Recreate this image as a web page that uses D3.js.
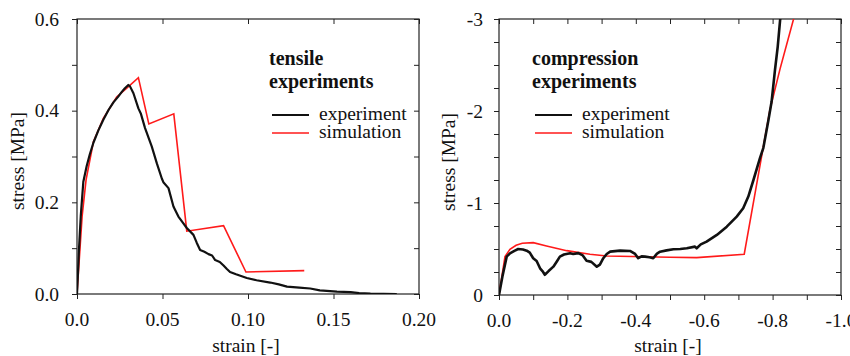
<!DOCTYPE html>
<html>
<head>
<meta charset="utf-8">
<script src="https://cdn.jsdelivr.net/npm/d3@7"></script>
<style>
  html, body { margin: 0; padding: 0; background: #fff; }
  svg { display: block; }
</style>
</head>
<body>
<div id="chart"></div>
<script>
/* stress-strain curves, tensile (left) and compression (right) */
const FONT = '"Liberation Serif"';

const tensileXTicks = [0, 0.05, 0.10, 0.15, 0.20];
const tensileXLabels = ["0.0", "0.05", "0.10", "0.15", "0.20"];
const tensileYTicks = [0, 0.2, 0.4, 0.6];
const tensileYLabels = ["0.0", "0.2", "0.4", "0.6"];

const tensileExpStrain = [0, 0.0005, 0.0012, 0.0022, 0.0037, 0.0057, 0.0075, 0.0096, 0.0125, 0.0154, 0.0185,
  0.0213, 0.024, 0.0262, 0.028, 0.0300, 0.031, 0.033, 0.0359, 0.0373, 0.0398, 0.0437, 0.0467, 0.0496, 0.0505,
  0.0535, 0.0564, 0.0593, 0.0620, 0.0642, 0.0681, 0.0700, 0.072, 0.0745, 0.0769, 0.0790, 0.0808, 0.0835, 0.0857,
  0.0875, 0.0895, 0.093, 0.0993, 0.105, 0.113, 0.118, 0.1228, 0.130, 0.1364, 0.142, 0.152, 0.160, 0.165, 0.1716, 0.187];
const tensileExpStress = [0, 0.04, 0.10, 0.17, 0.245, 0.28, 0.305, 0.33, 0.357, 0.38, 0.402,
  0.418, 0.43, 0.441, 0.449, 0.456, 0.453, 0.438, 0.405, 0.394, 0.362, 0.322, 0.285, 0.252, 0.244,
  0.231, 0.191, 0.169, 0.155, 0.144, 0.129, 0.112, 0.096, 0.092, 0.087, 0.084, 0.074, 0.070, 0.062,
  0.055, 0.048, 0.043, 0.035, 0.030, 0.025, 0.021, 0.016, 0.014, 0.012, 0.008, 0.005, 0.004, 0.002, 0.001, 0];

const tensileSimStrain = [0, 0.003, 0.0053, 0.0096, 0.0154, 0.0232, 0.0291, 0.0359, 0.0420, 0.0566, 0.0642, 0.0857, 0.0988, 0.1329];
const tensileSimStress = [0, 0.17, 0.249, 0.332, 0.383, 0.430, 0.449, 0.472, 0.371, 0.393, 0.137, 0.149, 0.048, 0.051];

const compXTicks = [0, -0.2, -0.4, -0.6, -0.8, -1.0];
const compXLabels = ["0.0", "-0.2", "-0.4", "-0.6", "-0.8", "-1.0"];
const compYTicks = [0, -1, -2, -3];
const compYLabels = ["0", "-1", "-2", "-3"];

const compExpStrain = [0, -0.01, -0.0225, -0.032, -0.045, -0.056, -0.07, -0.081, -0.09, -0.100, -0.110, -0.120,
  -0.127, -0.134, -0.145, -0.159, -0.17, -0.178, -0.19, -0.208, -0.217, -0.232, -0.245, -0.256, -0.27, -0.286,
  -0.295, -0.305, -0.315, -0.325, -0.354, -0.383, -0.398, -0.407, -0.417, -0.427, -0.44, -0.451, -0.462, -0.471,
  -0.49, -0.51, -0.53, -0.549, -0.573, -0.578, -0.59, -0.607, -0.637, -0.666, -0.695, -0.714, -0.729, -0.744,
  -0.763, -0.773, -0.788, -0.797, -0.807, -0.815, -0.822, -0.826];
const compExpStress = [0, -0.2, -0.417, -0.453, -0.48, -0.50, -0.495, -0.482, -0.46, -0.40, -0.37, -0.29,
  -0.26, -0.22, -0.26, -0.308, -0.37, -0.417, -0.44, -0.453, -0.446, -0.455, -0.43, -0.373, -0.36, -0.308,
  -0.33, -0.40, -0.446, -0.471, -0.482, -0.479, -0.446, -0.40, -0.42, -0.417, -0.41, -0.40, -0.45, -0.471,
  -0.485, -0.497, -0.50, -0.508, -0.526, -0.508, -0.55, -0.58, -0.653, -0.743, -0.852, -0.943, -1.07, -1.25,
  -1.487, -1.6, -1.904, -2.1, -2.448, -2.7, -2.99, -3.1];

const compSimStrain = [0, -0.0175, -0.032, -0.05, -0.068, -0.1, -0.139, -0.198, -0.266, -0.315, -0.5, -0.578, -0.717, -0.792, -0.822, -0.865];
const compSimStress = [0, -0.417, -0.497, -0.54, -0.562, -0.569, -0.533, -0.482, -0.443, -0.424, -0.41, -0.406, -0.443, -2.01, -2.46, -3.05];

const W = 850, H = 356;
const svg = d3.select("#chart").append("svg").attr("width", W).attr("height", H);

// text is set at 22px and scaled down, so the serif face is picked up
function label(parent, x, y, str, size, opt) {
  opt = opt || {};
  const k = size / 22;
  const g = parent.append("g")
    .attr("transform", `translate(${x},${y})${opt.rotate ? ` rotate(${opt.rotate})` : ""} scale(${k})`);
  return g.append("text")
    .attr("text-anchor", opt.anchor || "start")
    .style("font-family", FONT).attr("font-size", "22px")
    .attr("font-weight", opt.bold ? "bold" : null)
    .attr("fill", "#111").text(str);
}

function panel(o) {
  const x = d3.scaleLinear().domain(o.xDomain).range([o.l, o.r]);
  const y = d3.scaleLinear().domain(o.yDomain).range([o.b, o.t]);
  const g = svg.append("g");
  const fs = 19.5;

  g.append("clipPath").attr("id", o.id).append("rect")
    .attr("x", o.l).attr("y", o.t).attr("width", o.r - o.l).attr("height", o.b - o.t);

  // ticks: outward on left/bottom, inward on right/top
  g.append("g").attr("transform", `translate(0,${o.b})`)
    .call(d3.axisBottom(x).tickValues(o.xMinor).tickSize(5).tickFormat(""));
  g.append("g").attr("transform", `translate(0,${o.t})`)
    .call(d3.axisBottom(x).tickValues(o.xMinor).tickSize(5).tickFormat(""));
  g.append("g").attr("transform", `translate(${o.l},0)`)
    .call(d3.axisLeft(y).tickValues(o.yMinor).tickSize(5).tickFormat(""));
  g.append("g").attr("transform", `translate(${o.r},0)`)
    .call(d3.axisLeft(y).tickValues(o.yMinor).tickSize(5).tickFormat(""));
  g.selectAll(".domain").remove();
  g.selectAll(".tick line").attr("stroke", "#222").attr("stroke-width", 1);

  g.append("rect").attr("x", o.l).attr("y", o.t).attr("width", o.r - o.l).attr("height", o.b - o.t)
    .attr("fill", "none").attr("stroke", "#222").attr("stroke-width", 1.2);

  o.xTicks.forEach((d, i) => label(g, x(d), o.b + 32, o.xLabels[i], fs, { anchor: "middle" }));
  o.yTicks.forEach((d, i) => label(g, o.l - o.yLabelGap, y(d) + 6.5, o.yLabels[i], fs, { anchor: "end" }));

  label(g, (o.l + o.r) / 2 - 2, 352, "strain [-]", fs, { anchor: "middle" });
  label(g, o.yTitleX, o.yTitleY, "stress [MPa]", fs, { anchor: "middle", rotate: -90 });

  const line = (xs, ys) => d3.line().x((d, i) => x(xs[i])).y((d, i) => y(ys[i]))(xs);
  const curves = g.append("g").attr("clip-path", `url(#${o.id})`);
  curves.append("path").attr("d", line(o.simX, o.simY))
    .attr("fill", "none").attr("stroke", "#ff1a1a").attr("stroke-width", 1.6);
  curves.append("path").attr("d", line(o.expX, o.expY))
    .attr("fill", "none").attr("stroke", "#111").attr("stroke-width", o.expW).attr("stroke-linejoin", "round");

  // legend
  label(g, o.legX, 65, o.title, 20, { bold: true });
  label(g, o.legX, 88, "experiments", 20, { bold: true });
  [["experiment", "#111", 2.2, 115], ["simulation", "#ff1a1a", 1.6, 133]].forEach(([name, c, w, yy]) => {
    g.append("line").attr("x1", o.legX + 3).attr("x2", o.legX + 40).attr("y1", yy).attr("y2", yy)
      .attr("stroke", c).attr("stroke-width", w);
    label(g, o.legX + 50, yy + 4.5, name, 19.5);
  });
}

panel({
  id: "clipT", l: 77, r: 419, t: 19, b: 294,
  xDomain: [0, 0.2], yDomain: [0, 0.6],
  xTicks: tensileXTicks, xLabels: tensileXLabels, yTicks: tensileYTicks, yLabels: tensileYLabels,
  xMinor: d3.range(0, 0.2001, 0.05), yMinor: d3.range(0, 0.6001, 0.1),
  yLabelGap: 18, yTitleX: 24, yTitleY: 161, legX: 269, title: "tensile", expW: 2.2,
  expX: tensileExpStrain, expY: tensileExpStress, simX: tensileSimStrain, simY: tensileSimStress
});

panel({
  id: "clipC", l: 499, r: 841, t: 19, b: 295,
  xDomain: [0, -1], yDomain: [0, -3],
  xTicks: compXTicks, xLabels: compXLabels, yTicks: compYTicks, yLabels: compYLabels,
  xMinor: d3.range(0, -1.0001, -0.1), yMinor: d3.range(0, -3.0001, -0.25),
  yLabelGap: 16, yTitleX: 455, yTitleY: 162, legX: 532, title: "compression", expW: 2.6,
  expX: compExpStrain, expY: compExpStress, simX: compSimStrain, simY: compSimStress
});
</script>
</body>
</html>
